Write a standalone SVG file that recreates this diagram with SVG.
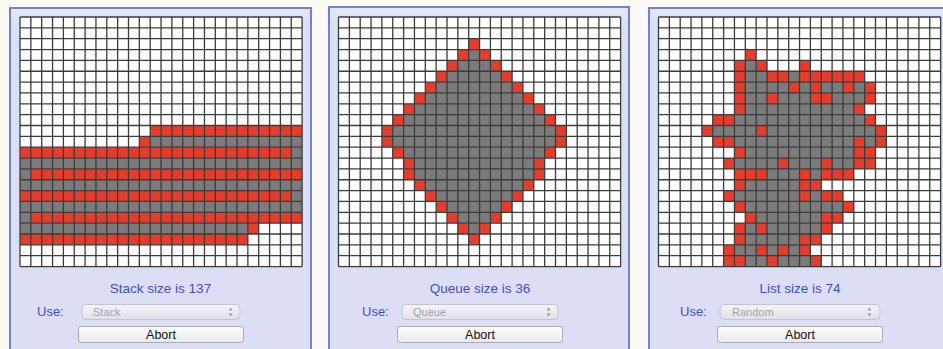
<svg xmlns="http://www.w3.org/2000/svg" xmlns:xlink="http://www.w3.org/1999/xlink" width="943" height="349" viewBox="0 0 943 349">
<style>
.bg{fill:#fbfbf6}
.panel{fill:#dcdef6;stroke:#6f7fe2;stroke-width:2}
.r{fill:#e63c2c}
.g{fill:#7b7b7b}
.w{fill:#ffffff}
.lbl{font-family:"Liberation Sans",Arial,sans-serif;font-size:13.5px;fill:#3f4fd2;text-anchor:middle}
.use{font-family:"Liberation Sans",Arial,sans-serif;font-size:13px;fill:#3f4fd2}
.sel{fill:url(#selg);stroke:#c3c4d0;stroke-width:1}
.seltxt{font-family:"Liberation Sans",Arial,sans-serif;font-size:11px;fill:#a3a3ad}
.btn{fill:url(#btng);stroke:#a9a9b0;stroke-width:1}
.btntxt{font-family:"Liberation Sans",Arial,sans-serif;font-size:12.5px;fill:#111;text-anchor:middle}
.arr{fill:#9c9ca6}
</style>
<defs>
<linearGradient id="selg" x1="0" y1="0" x2="0" y2="1"><stop offset="0" stop-color="#f4f4f7"/><stop offset="1" stop-color="#e0e0e7"/></linearGradient>
<linearGradient id="btng" x1="0" y1="0" x2="0" y2="1"><stop offset="0" stop-color="#ffffff"/><stop offset="1" stop-color="#e8e8eb"/></linearGradient>
<linearGradient id="pang" x1="0" y1="0" x2="0" y2="1"><stop offset="0" stop-color="#e6e8fb"/><stop offset="0.05" stop-color="#dcdef6"/><stop offset="1" stop-color="#dcdef6"/></linearGradient>
<rect id="rc" class="r" width="1" height="1"/>
<path id="gl" fill="none" stroke="#3c3c3c" stroke-width="1.3" vector-effect="non-scaling-stroke" d="M0 0V23M1 0V23M2 0V23M3 0V23M4 0V23M5 0V23M6 0V23M7 0V23M8 0V23M9 0V23M10 0V23M11 0V23M12 0V23M13 0V23M14 0V23M15 0V23M16 0V23M17 0V23M18 0V23M19 0V23M20 0V23M21 0V23M22 0V23M23 0V23M24 0V23M25 0V23M26 0V23M0 0H26M0 1H26M0 2H26M0 3H26M0 4H26M0 5H26M0 6H26M0 7H26M0 8H26M0 9H26M0 10H26M0 11H26M0 12H26M0 13H26M0 14H26M0 15H26M0 16H26M0 17H26M0 18H26M0 19H26M0 20H26M0 21H26M0 22H26M0 23H26"/>
</defs>
<rect class="bg" width="943" height="349"/>

<g id="panel-stack">
<rect class="panel" x="10" y="8" width="301" height="345" style="fill:url(#pang)"/>
<g transform="translate(20,17) scale(10.85)">
<rect class="w" width="26" height="23"/>
<rect class="r" x="12" y="10" width="14" height="1"/>
<rect class="r" x="11" y="11" width="1" height="1"/>
<rect class="g" x="12" y="11" width="14" height="1"/>
<rect class="r" x="0" y="12" width="25" height="1"/>
<rect class="g" x="25" y="12" width="1" height="1"/>
<rect class="g" x="0" y="13" width="26" height="1"/>
<rect class="g" x="0" y="14" width="1" height="1"/>
<rect class="r" x="1" y="14" width="25" height="1"/>
<rect class="g" x="0" y="15" width="26" height="1"/>
<rect class="r" x="0" y="16" width="25" height="1"/>
<rect class="g" x="25" y="16" width="1" height="1"/>
<rect class="g" x="0" y="17" width="26" height="1"/>
<rect class="g" x="0" y="18" width="1" height="1"/>
<rect class="r" x="1" y="18" width="25" height="1"/>
<rect class="g" x="0" y="19" width="21" height="1"/>
<rect class="r" x="21" y="19" width="1" height="1"/>
<rect class="r" x="0" y="20" width="21" height="1"/>
<use href="#gl"/>
</g>
<text class="lbl" x="160.5" y="293">Stack size is 137</text>
<text class="use" x="37" y="316">Use:</text>
<rect class="sel" x="82" y="304.5" width="158" height="15" rx="4"/>
<text class="seltxt" x="93" y="316">Stack</text>
<path class="arr" d="M228.5 310.5l2-3 2 3zM228.5 313.5l2 3 2-3z"/>
<rect class="btn" x="78.5" y="326.5" width="165" height="16" rx="3"/>
<text class="btntxt" x="161" y="339">Abort</text>
</g>

<g id="panel-queue">
<rect class="panel" x="329" y="7" width="300" height="346" style="fill:url(#pang)"/>
<g transform="translate(338.5,17) scale(10.85)">
<rect class="w" width="26" height="23"/>
<rect class="g" x="12" y="3" width="1" height="1"/>
<rect class="g" x="11" y="4" width="3" height="1"/>
<rect class="g" x="10" y="5" width="5" height="1"/>
<rect class="g" x="9" y="6" width="7" height="1"/>
<rect class="g" x="8" y="7" width="9" height="1"/>
<rect class="g" x="7" y="8" width="11" height="1"/>
<rect class="g" x="6" y="9" width="13" height="1"/>
<rect class="g" x="5" y="10" width="15" height="2"/>
<rect class="g" x="6" y="12" width="13" height="1"/>
<rect class="g" x="7" y="13" width="11" height="2"/>
<rect class="g" x="8" y="15" width="9" height="1"/>
<rect class="g" x="9" y="16" width="7" height="1"/>
<rect class="g" x="10" y="17" width="5" height="1"/>
<rect class="g" x="11" y="18" width="3" height="1"/>
<rect class="g" x="12" y="19" width="1" height="1"/>
<use href="#rc" x="12" y="2"/>
<use href="#rc" x="11" y="3"/><use href="#rc" x="13" y="3"/>
<use href="#rc" x="10" y="4"/><use href="#rc" x="14" y="4"/>
<use href="#rc" x="9" y="5"/><use href="#rc" x="15" y="5"/>
<use href="#rc" x="8" y="6"/><use href="#rc" x="16" y="6"/>
<use href="#rc" x="7" y="7"/><use href="#rc" x="17" y="7"/>
<use href="#rc" x="6" y="8"/><use href="#rc" x="18" y="8"/>
<use href="#rc" x="5" y="9"/><use href="#rc" x="19" y="9"/>
<use href="#rc" x="4" y="10"/><use href="#rc" x="20" y="10"/>
<use href="#rc" x="4" y="11"/><use href="#rc" x="20" y="11"/>
<use href="#rc" x="5" y="12"/><use href="#rc" x="19" y="12"/>
<use href="#rc" x="6" y="13"/><use href="#rc" x="18" y="13"/>
<use href="#rc" x="6" y="14"/><use href="#rc" x="18" y="14"/>
<use href="#rc" x="7" y="15"/><use href="#rc" x="17" y="15"/>
<use href="#rc" x="8" y="16"/><use href="#rc" x="16" y="16"/>
<use href="#rc" x="9" y="17"/><use href="#rc" x="15" y="17"/>
<use href="#rc" x="10" y="18"/><use href="#rc" x="14" y="18"/>
<use href="#rc" x="11" y="19"/><use href="#rc" x="13" y="19"/>
<use href="#rc" x="12" y="20"/>
<use href="#gl"/>
</g>
<text class="lbl" x="480" y="293">Queue size is 36</text>
<text class="use" x="362" y="316">Use:</text>
<rect class="sel" x="402" y="304.5" width="156" height="15" rx="4"/>
<text class="seltxt" x="413" y="316">Queue</text>
<path class="arr" d="M546.5 310.5l2-3 2 3zM546.5 313.5l2 3 2-3z"/>
<rect class="btn" x="397.5" y="326.5" width="165" height="16" rx="3"/>
<text class="btntxt" x="480" y="339">Abort</text>
</g>

<g id="panel-list">
<rect class="panel" x="649" y="8" width="302" height="345" style="fill:url(#pang)"/>
<g transform="translate(658.5,17) scale(10.85)">
<rect class="w" width="26" height="23"/>
<rect class="g" x="8" y="4" width="1" height="1"/>
<rect class="g" x="7" y="5" width="12" height="1"/>
<rect class="g" x="7" y="6" width="13" height="2"/>
<rect class="g" x="7" y="8" width="12" height="1"/>
<rect class="g" x="5" y="9" width="15" height="1"/>
<rect class="g" x="4" y="10" width="17" height="1"/>
<rect class="g" x="5" y="11" width="16" height="1"/>
<rect class="g" x="7" y="12" width="13" height="1"/>
<rect class="g" x="6" y="13" width="14" height="1"/>
<rect class="g" x="7" y="14" width="11" height="1"/>
<rect class="g" x="7" y="15" width="8" height="1"/>
<rect class="g" x="6" y="16" width="11" height="1"/>
<rect class="g" x="7" y="17" width="11" height="1"/>
<rect class="g" x="8" y="18" width="9" height="1"/>
<rect class="g" x="7" y="19" width="9" height="1"/>
<rect class="g" x="7" y="20" width="8" height="1"/>
<rect class="g" x="6" y="21" width="8" height="1"/>
<rect class="g" x="6" y="22" width="9" height="1"/>
<use href="#rc" x="8" y="3"/>
<use href="#rc" x="7" y="4"/><use href="#rc" x="9" y="4"/><use href="#rc" x="13" y="4"/>
<use href="#rc" x="7" y="5"/><rect class="r" x="10" y="5" width="2" height="1"/><rect class="r" x="13" y="5" width="6" height="1"/>
<use href="#rc" x="7" y="6"/><use href="#rc" x="12" y="6"/><use href="#rc" x="14" y="6"/><use href="#rc" x="17" y="6"/><use href="#rc" x="19" y="6"/>
<use href="#rc" x="7" y="7"/><use href="#rc" x="10" y="7"/><rect class="r" x="14" y="7" width="2" height="1"/><use href="#rc" x="19" y="7"/>
<use href="#rc" x="7" y="8"/><use href="#rc" x="18" y="8"/>
<rect class="r" x="5" y="9" width="2" height="1"/><use href="#rc" x="19" y="9"/>
<use href="#rc" x="4" y="10"/><use href="#rc" x="9" y="10"/><use href="#rc" x="20" y="10"/>
<rect class="r" x="5" y="11" width="2" height="1"/><use href="#rc" x="18" y="11"/><use href="#rc" x="20" y="11"/>
<use href="#rc" x="7" y="12"/><rect class="r" x="18" y="12" width="2" height="1"/>
<use href="#rc" x="6" y="13"/><use href="#rc" x="11" y="13"/><use href="#rc" x="15" y="13"/><rect class="r" x="18" y="13" width="2" height="1"/>
<rect class="r" x="7" y="14" width="3" height="1"/><use href="#rc" x="13" y="14"/><rect class="r" x="15" y="14" width="3" height="1"/>
<use href="#rc" x="7" y="15"/><rect class="r" x="13" y="15" width="2" height="1"/>
<use href="#rc" x="6" y="16"/><use href="#rc" x="13" y="16"/><rect class="r" x="15" y="16" width="2" height="1"/>
<use href="#rc" x="7" y="17"/><use href="#rc" x="17" y="17"/>
<use href="#rc" x="8" y="18"/><rect class="r" x="15" y="18" width="2" height="1"/>
<use href="#rc" x="7" y="19"/><use href="#rc" x="9" y="19"/><use href="#rc" x="15" y="19"/>
<use href="#rc" x="7" y="20"/><rect class="r" x="13" y="20" width="2" height="1"/>
<use href="#rc" x="6" y="21"/><use href="#rc" x="9" y="21"/><use href="#rc" x="11" y="21"/><use href="#rc" x="13" y="21"/>
<rect class="r" x="6" y="22" width="2" height="1"/><use href="#rc" x="10" y="22"/><use href="#rc" x="14" y="22"/>
<use href="#gl"/>
</g>
<text class="lbl" x="800" y="293">List size is 74</text>
<text class="use" x="680" y="316">Use:</text>
<rect class="sel" x="720" y="304.5" width="160" height="15" rx="4"/>
<text class="seltxt" x="732" y="316">Random</text>
<path class="arr" d="M867.5 310.5l2-3 2 3zM867.5 313.5l2 3 2-3z"/>
<rect class="btn" x="717.5" y="326.5" width="165" height="16" rx="3"/>
<text class="btntxt" x="800" y="339">Abort</text>
</g>
</svg>
